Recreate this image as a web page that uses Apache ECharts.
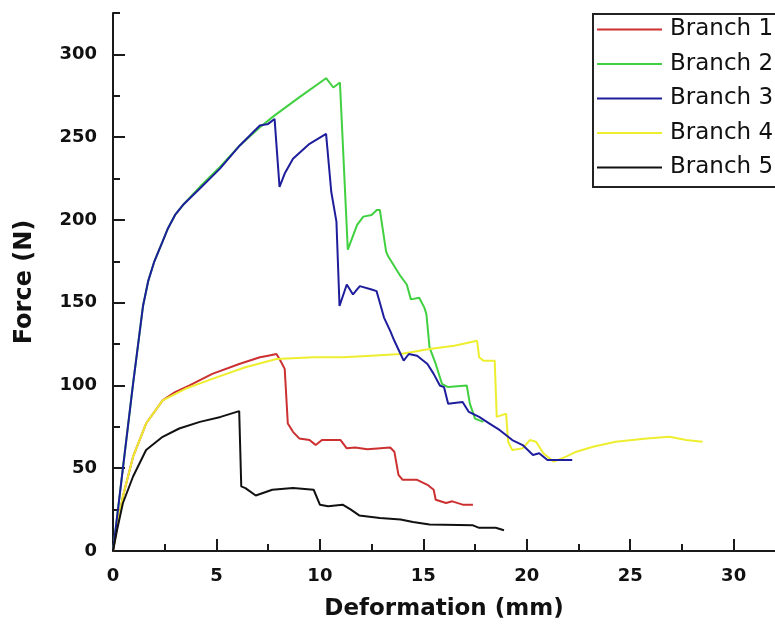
<!DOCTYPE html>
<html>
<head>
<meta charset="utf-8">
<script src="https://cdn.jsdelivr.net/npm/echarts@6/dist/echarts.min.js"></script>
<style>html,body{margin:0;padding:0;background:#fff}#c{width:775px;height:626px}</style>
</head>
<body>
<div id="c"></div>
<script>
var seriesNames = ['Branch 1', 'Branch 2', 'Branch 3', 'Branch 4', 'Branch 5'];
var xMajorTicks = [0, 5, 10, 15, 20, 25, 30];
var xMinorTicks = [2.5, 7.5, 12.5, 17.5, 22.5, 27.5];
var yMajorTicks = [0, 50, 100, 150, 200, 250, 300];
var yMinorTicks = [25, 75, 125, 175, 225, 275, 325];

var branch1 = [[0,0],[0.2,15],[0.48,33],[0.97,57],[1.6,77],[2.4,91],[3.0,96],[3.7,100],[4.8,107],[6.1,113],[7.1,117],[7.5,118],[7.9,119],[8.05,116],[8.3,110],[8.45,77],[8.7,72],[9.0,68],[9.5,67],[9.7,65],[9.8,64],[10.1,67],[11.0,67],[11.3,62],[11.7,62.5],[12.3,61.5],[13.4,62.5],[13.6,60],[13.8,46],[14.0,43],[14.7,43],[15.2,40],[15.5,37],[15.6,31],[16.1,29],[16.4,30],[16.9,28],[17.4,28]];
var branch2 = [[0,0],[0.48,50],[0.96,100],[1.45,148],[1.7,163],[2.0,175],[2.4,187],[2.66,195],[3.0,203],[3.38,209],[4.2,220],[5.17,232],[6.13,245],[7.1,256],[7.8,263],[9.0,274],[10.3,285.6],[10.65,280],[10.97,283],[11.35,182],[11.8,197],[12.1,202],[12.5,203],[12.75,206],[12.9,206],[13.2,181],[13.3,178],[13.6,172],[13.9,166],[14.2,161],[14.4,152],[14.8,153],[15.05,147],[15.15,143],[15.3,123],[15.6,113],[15.9,101],[16.2,99],[17.1,100],[17.25,89],[17.5,80],[17.9,78]];
var branch3 = [[0,0],[0.48,50],[0.96,100],[1.45,148],[1.7,163],[2.0,175],[2.4,187],[2.66,195],[3.0,203],[3.38,209],[4.2,219],[5.17,231],[6.13,245],[7.1,257],[7.5,258],[7.81,261],[8.05,220],[8.3,228],[8.7,237],[9.5,246],[10.3,252],[10.55,217],[10.8,199],[10.95,148],[11.3,161],[11.6,155],[11.93,160],[12.5,158],[12.74,157],[12.9,150],[13.1,141],[13.4,133],[13.6,127],[13.9,119],[14.05,115],[14.3,119],[14.7,118],[15.2,113],[15.5,107],[15.8,100],[16.0,99],[16.2,89],[16.9,90],[17.2,84],[17.7,81],[18.2,77],[18.7,73],[19.3,67],[19.8,64],[20.3,58],[20.6,59],[21.0,55],[22.2,55]];
var branch4 = [[0,0],[0.2,15],[0.48,33],[0.97,57],[1.6,77],[2.4,91],[3.5,98],[4.8,104],[6.4,111],[7.9,116],[9.7,117],[11.1,117],[12.5,118],[13.9,119],[15.3,122],[16.5,124],[17.6,127],[17.7,117],[17.9,115],[18.45,115],[18.55,81],[19.0,83],[19.1,66],[19.3,61],[19.8,62],[20.15,67],[20.45,66],[20.8,59],[21.3,54],[21.9,57],[22.4,60],[23.2,63],[24.3,66],[25.8,68],[26.9,69],[27.7,67],[28.5,66]];
var branch5 = [[0,0],[0.2,13],[0.48,29],[0.97,45],[1.6,61],[2.4,69],[3.2,74],[4.2,78],[5.2,81],[6.1,84.5],[6.2,39],[6.4,38],[6.9,33.5],[7.7,37],[8.7,38],[9.7,37],[10.0,28],[10.4,27],[11.1,28],[11.5,25],[11.9,21.5],[12.9,20],[13.9,19],[14.5,17.5],[15.3,16],[17.4,15.5],[17.7,14],[18.5,14],[18.9,12.5]];

var allData = [branch1, branch2, branch3, branch4, branch5];
var colors = ['#cc3030', '#40d040', '#1e1e9c', '#eeee30', '#111111'];
var zs = [2, 3, 4, 3, 5];

var chart = echarts.init(document.getElementById('c'), null, {renderer: 'canvas'});
var axisCol = '#1a1a1a';
var tickFont = {fontFamily: 'DejaVu Sans', fontWeight: 'bold', fontSize: 18, color: '#111'};

var option = {
  animation: false,
  backgroundColor: '#fff',
  grid: {left: 113, top: 13, right: 0, bottom: 71, containLabel: false},
  legend: {
    orient: 'vertical',
    left: 593, top: 14,
    data: seriesNames,
    icon: 'rect',
    itemWidth: 65, itemHeight: 2,
    itemGap: 11.5,
    padding: [4, 30, 8, 4],
    borderColor: '#222', borderWidth: 2,
    textStyle: {fontFamily: 'DejaVu Sans', fontSize: 23, color: '#111', padding: [0, 0, 0, 3]}
  },
  xAxis: [{
    type: 'value', min: 0, max: 32, interval: 5,
    name: 'Deformation (mm)', nameLocation: 'middle', nameGap: 47,
    nameTextStyle: {fontFamily: 'DejaVu Sans', fontWeight: 'bold', fontSize: 23, color: '#111'},
    axisLine: {show: true, onZero: false, lineStyle: {color: axisCol, width: 2}},
    axisTick: {show: true, inside: true, length: 12, lineStyle: {color: axisCol, width: 2}, customValues: xMajorTicks},
    axisLabel: Object.assign({margin: 16, customValues: xMajorTicks}, tickFont),
    splitLine: {show: false}
  }, {
    type: 'value', min: 0, max: 32, position: 'bottom',
    axisLine: {show: false},
    axisTick: {show: true, inside: true, length: 7, lineStyle: {color: axisCol, width: 2}, customValues: xMinorTicks},
    axisLabel: {show: false},
    splitLine: {show: false}
  }],
  yAxis: [{
    type: 'value', min: 0, max: 325, interval: 50,
    name: 'Force (N)', nameLocation: 'middle', nameGap: 76, nameRotate: 90,
    nameTextStyle: {fontFamily: 'DejaVu Sans', fontWeight: 'bold', fontSize: 24, color: '#111'},
    axisLine: {show: true, onZero: false, lineStyle: {color: axisCol, width: 2}},
    axisTick: {show: true, inside: true, length: 12, lineStyle: {color: axisCol, width: 2}, customValues: yMajorTicks},
    axisLabel: Object.assign({margin: 16, customValues: yMajorTicks}, tickFont),
    splitLine: {show: false}
  }, {
    type: 'value', min: 0, max: 325, position: 'left',
    axisLine: {show: false},
    axisTick: {show: true, inside: true, length: 7, lineStyle: {color: axisCol, width: 2}, customValues: yMinorTicks},
    axisLabel: {show: false},
    splitLine: {show: false}
  }],
  series: allData.map(function (d, i) {
    return {
      name: seriesNames[i], type: 'line', data: d,
      xAxisIndex: 0, yAxisIndex: 0,
      symbol: 'none', showSymbol: false, z: zs[i],
      lineStyle: {color: colors[i], width: 2},
      itemStyle: {color: colors[i]}
    };
  })
};
chart.setOption(option);
</script>
</body>
</html>
